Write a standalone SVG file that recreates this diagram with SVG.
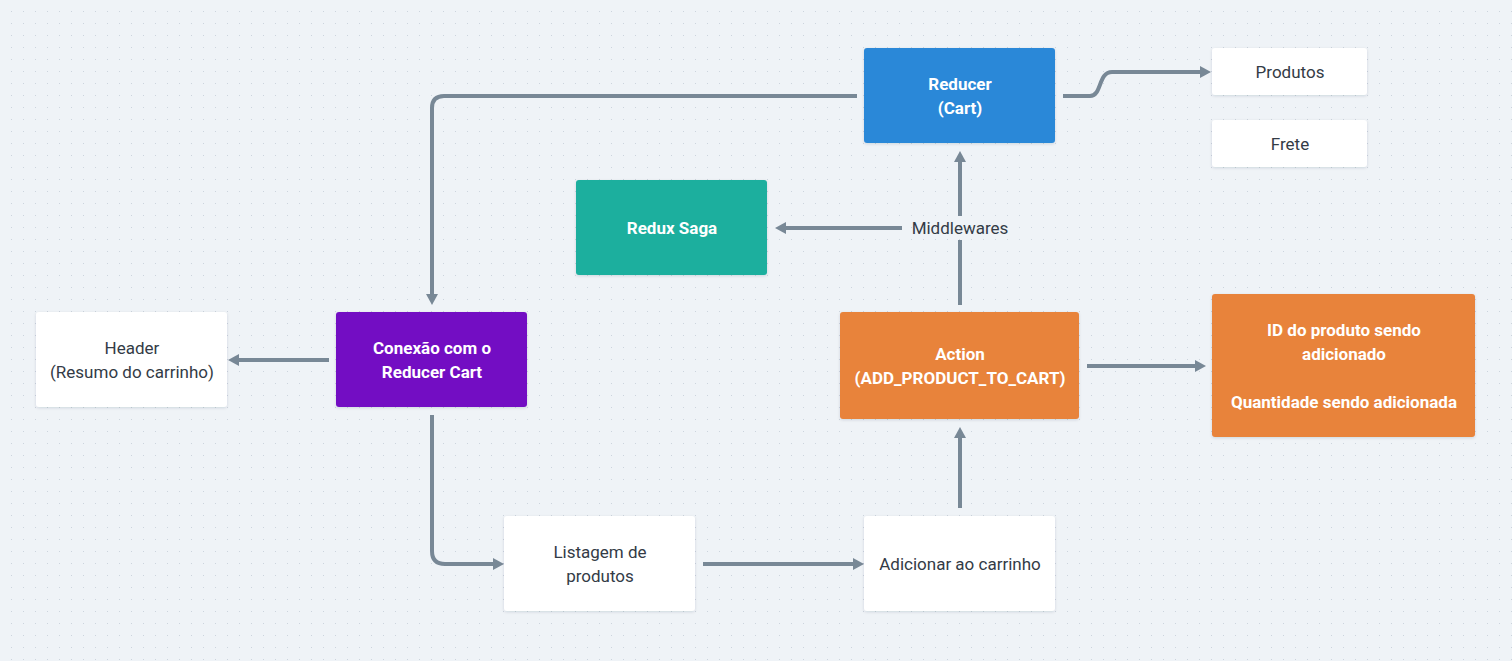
<svg xmlns="http://www.w3.org/2000/svg" width="1512" height="661" viewBox="0 0 1512 661">
<defs>
<pattern id="dots" width="12" height="12" patternUnits="userSpaceOnUse">
<rect x="11" y="11" width="2" height="2" fill="#ccd4dd"/>
</pattern>
<marker id="arr" viewBox="0 0 11 12" markerWidth="11" markerHeight="12" refX="1" refY="6" orient="auto" markerUnits="userSpaceOnUse">
<path d="M0,0 L11,6 L0,12 z" fill="#788896"/>
</marker>
<filter id="sh" x="-10%" y="-10%" width="120%" height="130%">
<feDropShadow dx="0" dy="1" stdDeviation="1.5" flood-color="#1e2a3a" flood-opacity="0.14"/>
</filter>
</defs>
<style>
.bx{filter:url(#sh)}
.t{font-family:Roboto,"Noto Sans","DejaVu Sans",sans-serif;font-size:17px;text-anchor:middle;dominant-baseline:central}
.dk{fill:#333b46}
.wh{fill:#ffffff;font-weight:bold}
.c{fill:none;stroke:#788896;stroke-width:4;marker-end:url(#arr)}
.cn{fill:none;stroke:#788896;stroke-width:4}
</style>
<rect width="1512" height="661" fill="#eff3f7"/>
<rect width="1512" height="661" fill="url(#dots)"/>

<g id="connectors">
<path class="c" d="M857,96 H444 Q432,96 432,108 V295"/>
<path class="c" d="M1063,96 H1090 C1102,96 1098,72 1112,72 H1201"/>
<path class="c" d="M329,360 H238"/>
<path class="c" d="M432,415 V551 Q432,564 445,564 H494"/>
<path class="c" d="M703,564 H854"/>
<path class="c" d="M960,508 V437"/>
<path class="cn" d="M960,305 V240"/>
<path class="c" d="M960,216 V161"/>
<path class="c" d="M902,228 H785"/>
<path class="c" d="M1087,366 H1196"/>
<text class="t dk" x="960" y="228">Middlewares</text>
</g>

<g id="reducer">
<rect class="bx" x="864" y="48" width="191" height="95" rx="3" fill="#2b88d8"/>
<text class="t wh" x="960" y="84">Reducer</text>
<text class="t wh" x="960" y="108">(Cart)</text>
</g>
<g id="produtos">
<rect class="bx" x="1212" y="48" width="155" height="47" rx="3" fill="#ffffff"/>
<text class="t dk" x="1290" y="72">Produtos</text>
</g>
<g id="frete">
<rect class="bx" x="1212" y="120" width="155" height="47" rx="3" fill="#ffffff"/>
<text class="t dk" x="1290" y="144">Frete</text>
</g>
<g id="redux-saga">
<rect class="bx" x="576" y="180" width="191" height="95" rx="3" fill="#1aaf9e"/>
<text class="t wh" x="672" y="228">Redux Saga</text>
</g>
<g id="header">
<rect class="bx" x="36" y="312" width="191" height="95" rx="3" fill="#ffffff"/>
<text class="t dk" x="132" y="348">Header</text>
<text class="t dk" x="132" y="372">(Resumo do carrinho)</text>
</g>
<g id="conexao">
<rect class="bx" x="336" y="312" width="191" height="95" rx="3" fill="#730fc3"/>
<text class="t wh" x="432" y="348">Conexão com o</text>
<text class="t wh" x="432" y="372">Reducer Cart</text>
</g>
<g id="action">
<rect class="bx" x="840" y="312" width="239" height="107" rx="3" fill="#e8833a"/>
<text class="t wh" x="960" y="354">Action</text>
<text class="t wh" x="960" y="378">(ADD_PRODUCT_TO_CART)</text>
</g>
<g id="id-produto">
<rect class="bx" x="1212" y="294" width="263" height="143" rx="3" fill="#e8833a"/>
<text class="t wh" x="1344" y="330">ID do produto sendo</text>
<text class="t wh" x="1344" y="354">adicionado</text>
<text class="t wh" x="1344" y="402">Quantidade sendo adicionada</text>
</g>
<g id="listagem">
<rect class="bx" x="504" y="516" width="191" height="95" rx="3" fill="#ffffff"/>
<text class="t dk" x="600" y="552">Listagem de</text>
<text class="t dk" x="600" y="576">produtos</text>
</g>
<g id="adicionar">
<rect class="bx" x="864" y="516" width="191" height="95" rx="3" fill="#ffffff"/>
<text class="t dk" x="960" y="564">Adicionar ao carrinho</text>
</g>
</svg>
